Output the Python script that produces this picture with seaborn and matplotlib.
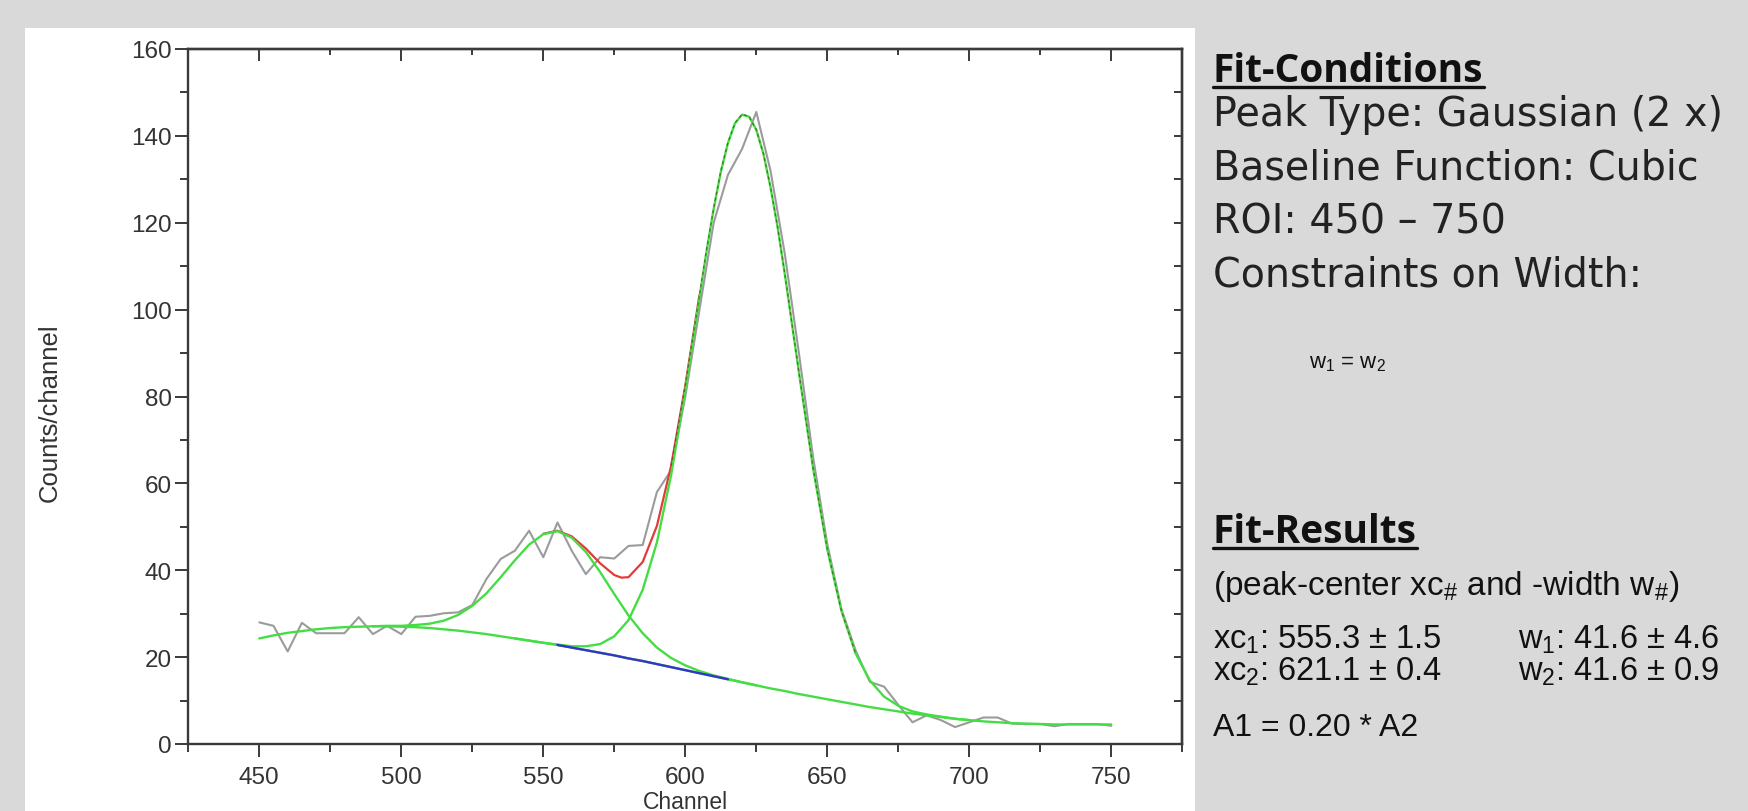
import matplotlib
matplotlib.use("Agg")
import matplotlib.pyplot as plt
import seaborn as sns
from matplotlib.patches import Rectangle
from matplotlib.lines import Line2D
from matplotlib.ticker import MultipleLocator

# ---------------- data ----------------
data_channel = [450, 455, 460, 465, 470, 475, 480, 485, 490, 495, 500, 505, 510, 515, 520,
                525, 530, 535, 540, 545, 550, 555, 560, 565, 570, 575, 580, 585, 590, 595,
                600, 605, 610, 615, 620, 625, 630, 635, 640, 645, 650, 655, 660, 665, 670,
                675, 680, 685, 690, 695, 700, 705, 710, 715, 720, 725, 730, 735, 740, 745, 750]
data_counts = [28.0, 27.2, 21.3, 27.9, 25.5, 25.5, 25.5, 29.2, 25.3, 27.2, 25.3, 29.3, 29.5, 30.1, 30.3,
               32.0, 38.0, 42.6, 44.5, 49.1, 43.0, 51.0, 44.5, 39.1, 43.0, 42.7, 45.6, 45.8, 58.0, 63.0,
               80.0, 100.0, 120.0, 131.0, 137.0, 145.5, 132.0, 113.0, 90.0, 66.0, 46.0, 31.0, 21.5, 14.3, 13.2,
               9.0, 5.0, 6.6, 5.5, 3.9, 5.0, 6.1, 6.1, 4.7, 4.6, 4.6, 4.1, 4.6, 4.6, 4.6, 4.2]

baseline_channel = [450, 455, 460, 465, 470, 475, 480, 485, 490, 495, 500, 505, 510, 515, 520,
                    525, 530, 535, 540, 545, 550, 555, 560, 565, 570, 575, 580, 585, 590, 595,
                    600, 605, 610, 615, 620, 625, 630, 635, 640, 645, 650, 655, 660, 665, 670,
                    675, 680, 685, 690, 695, 700, 705, 710, 715, 720, 725, 730, 735, 740, 745, 750]
baseline_counts = [24.3, 25.0, 25.6, 26.0, 26.4, 26.7, 26.9, 27.0, 27.1, 27.1, 27.0, 26.9, 26.7, 26.4, 26.1,
                   25.7, 25.3, 24.8, 24.3, 23.8, 23.3, 22.8, 22.2, 21.6, 21.0, 20.4, 19.7, 19.1, 18.4, 17.7,
                   17.0, 16.3, 15.6, 14.9, 14.2, 13.5, 12.8, 12.2, 11.5, 10.9, 10.3, 9.7, 9.1, 8.5, 8.0,
                   7.5, 7.0, 6.6, 6.2, 5.8, 5.5, 5.2, 5.0, 4.8, 4.7, 4.6, 4.5, 4.5, 4.5, 4.5, 4.5]

peak1_channel = [490, 495, 500, 505, 510, 515, 520, 525, 530, 535, 540, 545, 550, 555, 560,
                 565, 570, 575, 580, 585, 590, 595, 600, 605, 610, 615, 620, 625]
peak1_counts = [27.1, 27.2, 27.2, 27.4, 27.7, 28.4, 29.7, 31.8, 34.7, 38.4, 42.3, 45.9, 48.3, 49.0, 47.5,
                44.2, 39.6, 34.5, 29.6, 25.5, 22.2, 19.8, 18.1, 16.8, 15.8, 15.0, 14.2, 13.5]

peak2_channel = [540, 545, 550, 555, 560, 565, 570, 575, 580, 585, 590, 595, 600, 605, 607.5,
                 610, 612.5, 615, 617.5, 620, 622.5, 625, 627.5, 630, 632.5, 635, 640, 645, 650,
                 655, 660, 665, 670, 675, 680, 685, 690, 695, 700]
peak2_counts = [24.3, 23.8, 23.3, 22.9, 22.5, 22.5, 23.0, 24.8, 28.5, 35.5, 46.4, 61.9, 81.4, 102.9, 113.5,
                123.2, 131.7, 138.3, 142.9, 144.9, 144.4, 141.4, 135.9, 128.2, 119.0, 108.4, 85.6, 63.5, 44.8,
                30.6, 20.8, 14.6, 10.9, 8.8, 7.5, 6.8, 6.3, 5.8, 5.5]

cumfit_channel = [550, 555, 560, 565, 570, 575, 577.5, 580, 585, 590, 595, 600, 605, 607.5, 610,
                  612.5, 615, 617.5, 620, 622.5, 625, 627.5, 630, 632.5, 635, 640, 645, 650, 655, 660]
cumfit_counts = [48.4, 49.1, 47.8, 45.0, 41.6, 38.9, 38.3, 38.4, 41.9, 50.2, 64.0, 82.5, 103.4, 113.9, 123.4,
                 131.9, 138.4, 143.0, 145.0, 144.4, 141.4, 135.9, 128.2, 119.0, 108.4, 85.6, 63.5, 44.8, 30.6, 20.8]

blue_channel = [555, 560, 565, 570, 575, 580, 585, 590, 595, 600, 605, 610, 615]
blue_counts = [22.8, 22.2, 21.6, 21.0, 20.4, 19.7, 19.1, 18.4, 17.7, 17.0, 16.3, 15.6, 14.9]

x_ticks = [450, 500, 550, 600, 650, 700, 750]
y_ticks = [0, 20, 40, 60, 80, 100, 120, 140, 160]

conditions_title = "Fit-Conditions"
conditions_lines = ["Peak Type: Gaussian (2 x)", "Baseline Function: Cubic",
                    "ROI: 450 \u2013 750", "Constraints on Width:"]
constraint_text = "w$_1$ = w$_2$"
results_title = "Fit-Results"
results_note = "(peak-center xc$_\\#$ and -width w$_\\#$)"
results_left = ["xc$_1$: 555.3 \u00b1 1.5", "xc$_2$: 621.1 \u00b1 0.4"]
results_right = ["w$_1$: 41.6 \u00b1 4.6", "w$_2$: 41.6 \u00b1 0.9"]
ratio_text = "A1 = 0.20 * A2"

# ---------------- styling ----------------
sns.set_theme(style="ticks")
plt.rcParams["font.family"] = ["Liberation Sans", "DejaVu Sans"]
plt.rcParams["mathtext.fontset"] = "custom"
plt.rcParams["mathtext.rm"] = "Liberation Sans"
plt.rcParams["mathtext.it"] = "Liberation Sans:italic"
plt.rcParams["mathtext.bf"] = "Liberation Sans:bold"

W, H = 1748, 812
fig = plt.figure(figsize=(W / 100, H / 100), dpi=100, facecolor="#d9d9d9")

def fx(px):
    return px / W

def fy(py):
    return 1 - py / H

# white panel behind plot
fig.patches.append(Rectangle((fx(25), 0), fx(1195) - fx(25), fy(29), transform=fig.transFigure,
                             facecolor="white", edgecolor="none", zorder=-10))

ax_l, ax_r, ax_t, ax_b = 188.3, 1182.3, 50, 745
ax = fig.add_axes([fx(ax_l), fy(ax_b), fx(ax_r) - fx(ax_l), fy(ax_t) - fy(ax_b)])
ax.set_facecolor("white")

GRAY = "#9b9b9b"
GREEN = "#44de44"
RED = "#e33a3a"
BLUE = "#3535c8"

# red solid part of cumulative fit (shoulder valley), dark dashed where it runs on the main peak
n_red = cumfit_channel.index(605) + 1
n_dash = cumfit_channel.index(595)

sns.lineplot(x=data_channel, y=data_counts, ax=ax, color=GRAY, lw=1.5, zorder=2)
sns.lineplot(x=cumfit_channel[:n_red], y=cumfit_counts[:n_red], ax=ax, color=RED, lw=1.6, zorder=3)
sns.lineplot(x=baseline_channel, y=baseline_counts, ax=ax, color=GREEN, lw=1.7, zorder=4)
sns.lineplot(x=peak1_channel, y=peak1_counts, ax=ax, color=GREEN, lw=1.7, zorder=4)
sns.lineplot(x=peak2_channel, y=peak2_counts, ax=ax, color=GREEN, lw=1.7, zorder=4)
sns.lineplot(x=cumfit_channel[n_dash:], y=cumfit_counts[n_dash:], ax=ax, color="#5a4a2e", lw=0.9,
             zorder=5, dashes=False, linestyle=(0, (2.5, 2.5)), alpha=0.8)
sns.lineplot(x=blue_channel, y=blue_counts, ax=ax, color=BLUE, lw=1.7, zorder=5)

ax.set_xlim(425, 775)
ax.set_ylim(0, 160)
ax.set_xticks(x_ticks)
ax.set_yticks(y_ticks)
ax.xaxis.set_minor_locator(MultipleLocator(25))
ax.yaxis.set_minor_locator(MultipleLocator(10))
ax.set_xlabel("")
ax.set_ylabel("")

SP = "#3a3a3a"
for s in ax.spines.values():
    s.set_linewidth(1.7)
    s.set_color(SP)
    s.set_visible(True)

ax.tick_params(axis="both", which="major", direction="out", length=9.5, width=1.4, color=SP,
               labelsize=17.5, labelcolor="#333333")
ax.tick_params(axis="both", which="minor", direction="out", length=5.5, width=1.4, color=SP)
ax.tick_params(axis="x", which="major", pad=6.5)
ax.tick_params(axis="y", which="major", pad=2.5)

secx = ax.secondary_xaxis("top")
secx.set_xticks(x_ticks)
secx.xaxis.set_minor_locator(MultipleLocator(25))
secx.tick_params(which="major", direction="in", length=8.5, width=1.4, color=SP, labeltop=False)
secx.tick_params(which="minor", direction="in", length=4, width=1.4, color=SP)
secx.spines["top"].set_linewidth(1.7)
secx.spines["top"].set_color(SP)

secy = ax.secondary_yaxis("right")
secy.set_yticks(y_ticks)
secy.yaxis.set_minor_locator(MultipleLocator(10))
secy.tick_params(which="major", direction="in", length=5.5, width=1.4, color=SP, labelright=False)
secy.tick_params(which="minor", direction="in", length=5.5, width=1.4, color=SP)
secy.spines["right"].set_linewidth(1.7)
secy.spines["right"].set_color(SP)

fig.text(fx(50), fy(413), "Counts/channel", rotation=90, ha="center", va="center",
         fontsize=18.5, color="#333333")
fig.text(fx(685), fy(791), "Channel", ha="center", va="top", fontsize=16.5, color="#333333")

# ---------------- right-hand text panel ----------------
TX = 1213
head_font = dict(family=["Open Sans", "DejaVu Sans"], weight="bold", fontsize=28, color="#111111")
body_font = dict(family=["DejaVu Sans"], weight="normal", fontsize=28.5, color="#222222")
arial = dict(family=["Liberation Sans", "DejaVu Sans"], color="#111111")

t1 = fig.text(fx(TX), fy(82), conditions_title, ha="left", va="baseline", **head_font)
for i, line in enumerate(conditions_lines):
    fig.text(fx(TX), fy(126 + 53.5 * i), line, ha="left", va="baseline", **body_font)
fig.text(fx(1309), fy(368), constraint_text, ha="left", va="baseline", fontsize=16, **arial)

t2 = fig.text(fx(TX), fy(543), results_title, ha="left", va="baseline", **head_font)
fig.text(fx(TX), fy(595), results_note, ha="left", va="baseline", fontsize=24, **arial)
for i, (a, b) in enumerate(zip(results_left, results_right)):
    fig.text(fx(TX), fy(649 + 32 * i), a, ha="left", va="baseline", fontsize=23.5, **arial)
    fig.text(fx(1518), fy(649 + 32 * i), b, ha="left", va="baseline", fontsize=23.5, **arial)
fig.text(fx(TX), fy(736), ratio_text, ha="left", va="baseline", fontsize=23, **arial)

fig.canvas.draw()
r = fig.canvas.get_renderer()
for t, uy in ((t1, 88), (t2, 549)):
    bb = t.get_window_extent(r)
    fig.add_artist(Line2D([bb.x0 / W, bb.x1 / W], [fy(uy), fy(uy)], transform=fig.transFigure,
                          color="#111111", lw=2.4))

fig.savefig("out.png", dpi=100, facecolor=fig.get_facecolor())
